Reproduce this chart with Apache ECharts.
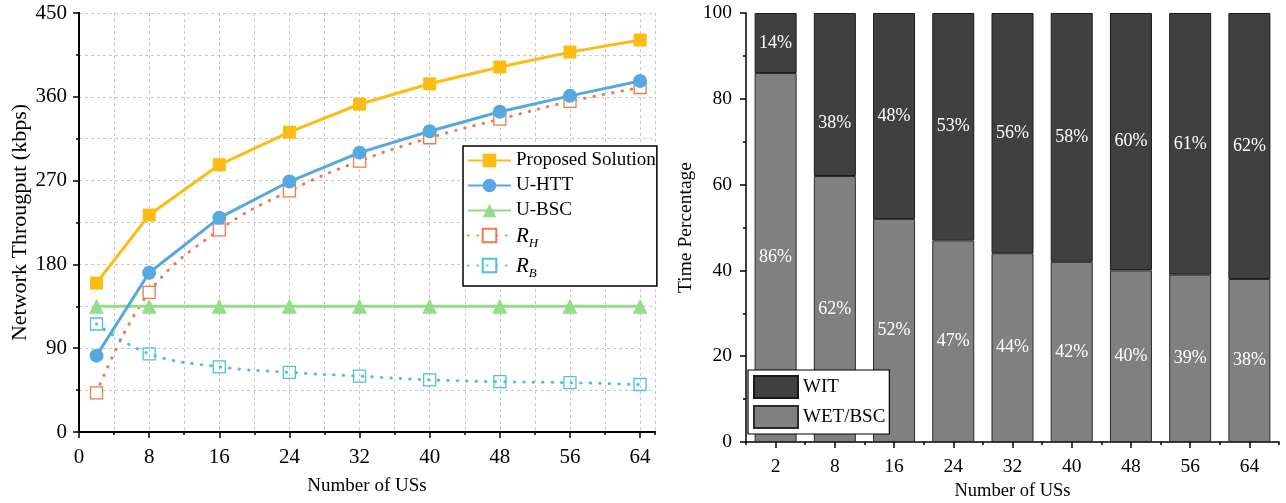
<!DOCTYPE html>
<html>
<head>
<meta charset="utf-8">
<script src="https://cdn.jsdelivr.net/npm/echarts@6/dist/echarts.min.js"></script>
<style>
html,body{margin:0;padding:0;background:#fff;}
#c{width:1286px;height:503px;}
</style>
</head>
<body>
<div id="c"></div>
<script>
// ---- Left chart data ----
const usX = [2, 8, 16, 24, 32, 40, 48, 56, 64];
const proposed = [160, 233, 287, 322, 352, 374, 392, 408, 421];
const uHTT = [82, 171, 230, 269, 300, 323, 344, 361, 377];
const uBSC = [135, 135, 135, 135, 135, 135, 135, 135, 135];
const rH = [42, 150, 217, 259, 291, 316, 336, 355, 370];
const rB = [116, 84, 70, 64, 60, 56, 54, 53, 51];
const leftXTicks = [0, 8, 16, 24, 32, 40, 48, 56, 64];

// ---- Right chart data ----
const barCats = ['2', '8', '16', '24', '32', '40', '48', '56', '64'];
const wetBsc = [86, 62, 52, 47, 44, 42, 40, 39, 38];
const wit = [14, 38, 48, 53, 56, 58, 60, 61, 62];

const FONT = '"Liberation Serif", "Times New Roman", serif';
const C = {
  prop: '#FBBD14',
  htt: '#56A9E0',
  bsc: '#93DD89',
  rh: '#F2774F',
  rb: '#4EC5C6'
};

const pairs = arr => usX.map((x, i) => [x, arr[i]]);

const chart = echarts.init(document.getElementById('c'));
const leftLabel = {color: '#000', fontFamily: FONT, fontSize: 21};
const rightLabel = {color: '#000', fontFamily: FONT, fontSize: 19.5};
const dashGrid = {show: true, lineStyle: {color: '#c8c8c8', type: [3, 3], width: 1}};
const XMAX = 65.7;

const option = {
  animation: false,
  backgroundColor: '#fff',
  grid: [
    {left: 79, top: 13, width: 576, height: 419, outerBoundsMode: 'none', containLabel: false},
    {left: 746, top: 13, width: 533, height: 429, outerBoundsMode: 'none', containLabel: false}
  ],
  legend: [
    {
      data: ['Proposed Solution', 'U-HTT', 'U-BSC', 'R_H', 'R_B'],
      orient: 'vertical', left: 463, top: 146,
      itemWidth: 43, itemHeight: 17, itemGap: 6,
      padding: [5, 1, 6, 4],
      backgroundColor: '#fff', borderColor: '#000', borderWidth: 1.5, borderRadius: 0,
      textStyle: {
        fontFamily: FONT, fontSize: 19, color: '#000',
        rich: {
          i: {fontFamily: FONT, fontSize: 21, fontStyle: 'italic', lineHeight: 19, verticalAlign: 'top', color: '#000'},
          s: {fontFamily: FONT, fontSize: 13, fontStyle: 'italic', lineHeight: 13, padding: [11, 0, 0, 0], verticalAlign: 'top', color: '#000'}
        }
      },
      formatter: function (n) {
        if (n === 'R_H') return '{i|R}{s|H}';
        if (n === 'R_B') return '{i|R}{s|B}';
        return n;
      }
    },
    {
      data: ['WIT', 'WET/BSC'],
      orient: 'vertical', left: 748, top: 370,
      icon: 'rect',
      itemWidth: 44, itemHeight: 22, itemGap: 6,
      padding: [5, 4, 5, 5],
      backgroundColor: '#fff', borderColor: '#000', borderWidth: 1.2, borderRadius: 0,
      textStyle: {fontFamily: FONT, fontSize: 19, color: '#000'}
    }
  ],
  xAxis: [
    {
      gridIndex: 0, type: 'value', min: 0, max: XMAX, interval: 8,
      name: 'Number of USs', nameLocation: 'middle', nameGap: 45,
      nameTextStyle: {fontFamily: FONT, fontSize: 19, color: '#000'},
      axisLine: {show: true, onZero: false, lineStyle: {color: '#000', width: 2}},
      axisTick: {show: true, inside: false, length: 6, lineStyle: {color: '#000', width: 1.5}, customValues: leftXTicks},
      axisLabel: Object.assign({margin: 15, customValues: leftXTicks}, leftLabel),
      splitLine: dashGrid
    },
    {
      gridIndex: 0, type: 'value', min: 0, max: XMAX, interval: 4, position: 'bottom',
      axisLine: {show: false},
      axisTick: {show: true, length: 3, lineStyle: {color: '#000', width: 1.5}},
      axisLabel: {show: false},
      splitLine: dashGrid
    },
    {
      gridIndex: 0, type: 'value', min: 0, max: XMAX, position: 'top',
      axisLine: {show: true, lineStyle: {color: '#000', width: 2}},
      axisTick: {show: false}, axisLabel: {show: false}, splitLine: {show: false}
    },
    {
      gridIndex: 1, type: 'category', data: barCats,
      name: 'Number of USs', nameLocation: 'middle', nameGap: 39,
      nameTextStyle: {fontFamily: FONT, fontSize: 18.5, color: '#000'},
      axisLine: {show: true, lineStyle: {color: '#000', width: 1.5}},
      axisTick: {show: true, alignWithLabel: true, length: 6, lineStyle: {color: '#000', width: 1.5}},
      axisLabel: Object.assign({margin: 15}, rightLabel),
      splitLine: {show: false}
    },
    {
      gridIndex: 1, type: 'category', data: barCats, position: 'bottom',
      axisLine: {show: false},
      axisTick: {show: true, alignWithLabel: false, length: 3, lineStyle: {color: '#000', width: 1.5}},
      axisLabel: {show: false},
      splitLine: {show: false}
    }
  ],
  yAxis: [
    {
      gridIndex: 0, type: 'value', min: 0, max: 450, interval: 90,
      name: 'Network Througput (kbps)', nameLocation: 'middle', nameGap: 48,
      nameTextStyle: {fontFamily: FONT, fontSize: 22, color: '#000'},
      axisLine: {show: true, lineStyle: {color: '#000', width: 2}},
      axisTick: {show: true, length: 6, lineStyle: {color: '#000', width: 1.5}},
      minorTick: {show: true, splitNumber: 2, length: 3, lineStyle: {color: '#000', width: 1.5}},
      axisLabel: Object.assign({margin: 12}, leftLabel),
      splitLine: dashGrid,
      minorSplitLine: dashGrid
    },
    {
      gridIndex: 0, type: 'value', min: 0, max: 450, position: 'right',
      axisLine: {show: true, lineStyle: {color: '#000', width: 2}},
      axisTick: {show: false}, axisLabel: {show: false}, splitLine: {show: false}
    },
    {
      gridIndex: 1, type: 'value', min: 0, max: 100, interval: 20,
      name: 'Time Percentage', nameLocation: 'middle', nameGap: 50,
      nameTextStyle: {fontFamily: FONT, fontSize: 19.5, color: '#000'},
      axisLine: {show: true, lineStyle: {color: '#000', width: 1.5}},
      axisTick: {show: true, length: 6, lineStyle: {color: '#000', width: 1.5}},
      minorTick: {show: true, splitNumber: 2, length: 3, lineStyle: {color: '#000', width: 1.5}},
      axisLabel: Object.assign({margin: 14}, rightLabel),
      splitLine: {show: false}
    }
  ],
  series: [
    {
      name: 'Proposed Solution', type: 'line', xAxisIndex: 0, yAxisIndex: 0,
      data: pairs(proposed), symbol: 'rect', symbolSize: 13,
      lineStyle: {color: C.prop, width: 3}, itemStyle: {color: C.prop}, z: 5
    },
    {
      name: 'U-HTT', type: 'line', xAxisIndex: 0, yAxisIndex: 0,
      data: pairs(uHTT), symbol: 'circle', symbolSize: 14,
      lineStyle: {color: C.htt, width: 3}, itemStyle: {color: C.htt}, z: 5
    },
    {
      name: 'U-BSC', type: 'line', xAxisIndex: 0, yAxisIndex: 0,
      data: pairs(uBSC), symbol: 'triangle', symbolSize: 15,
      lineStyle: {color: C.bsc, width: 3}, itemStyle: {color: C.bsc}, z: 4
    },
    {
      name: 'R_H', type: 'line', xAxisIndex: 0, yAxisIndex: 0, smooth: 0.4,
      data: pairs(rH), symbol: 'rect', symbolSize: 12,
      lineStyle: {color: C.rh, width: 3, type: [0.5, 9], cap: 'round'},
      itemStyle: {color: '#fff', borderColor: C.rh, borderWidth: 1.3}, z: 3
    },
    {
      name: 'R_B', type: 'line', xAxisIndex: 0, yAxisIndex: 0, smooth: 0.4,
      data: pairs(rB), symbol: 'rect', symbolSize: 12,
      lineStyle: {color: C.rb, width: 3, type: [0.5, 9], cap: 'round'},
      itemStyle: {color: 'rgba(255,255,255,0)', borderColor: C.rb, borderWidth: 1.3}, z: 3
    },
    {
      name: 'WET/BSC', type: 'bar', xAxisIndex: 3, yAxisIndex: 2, stack: 'tp',
      data: wetBsc, barWidth: 42,
      itemStyle: {color: '#808080', borderColor: '#2a2a2a', borderWidth: 1},
      label: {show: true, position: 'inside', color: '#fff', fontFamily: FONT, fontSize: 18,
        formatter: p => p.value + '%'}
    },
    {
      name: 'WIT', type: 'bar', xAxisIndex: 3, yAxisIndex: 2, stack: 'tp',
      data: wit.map((v, i) => i === 1 ? {value: v, label: {offset: [0, 29]}} : v), barWidth: 42,
      itemStyle: {color: '#404040', borderColor: '#1a1a1a', borderWidth: 1},
      label: {show: true, position: 'inside', color: '#fff', fontFamily: FONT, fontSize: 18,
        formatter: p => p.value + '%'}
    }
  ]
};
chart.setOption(option);
</script>
</body>
</html>
